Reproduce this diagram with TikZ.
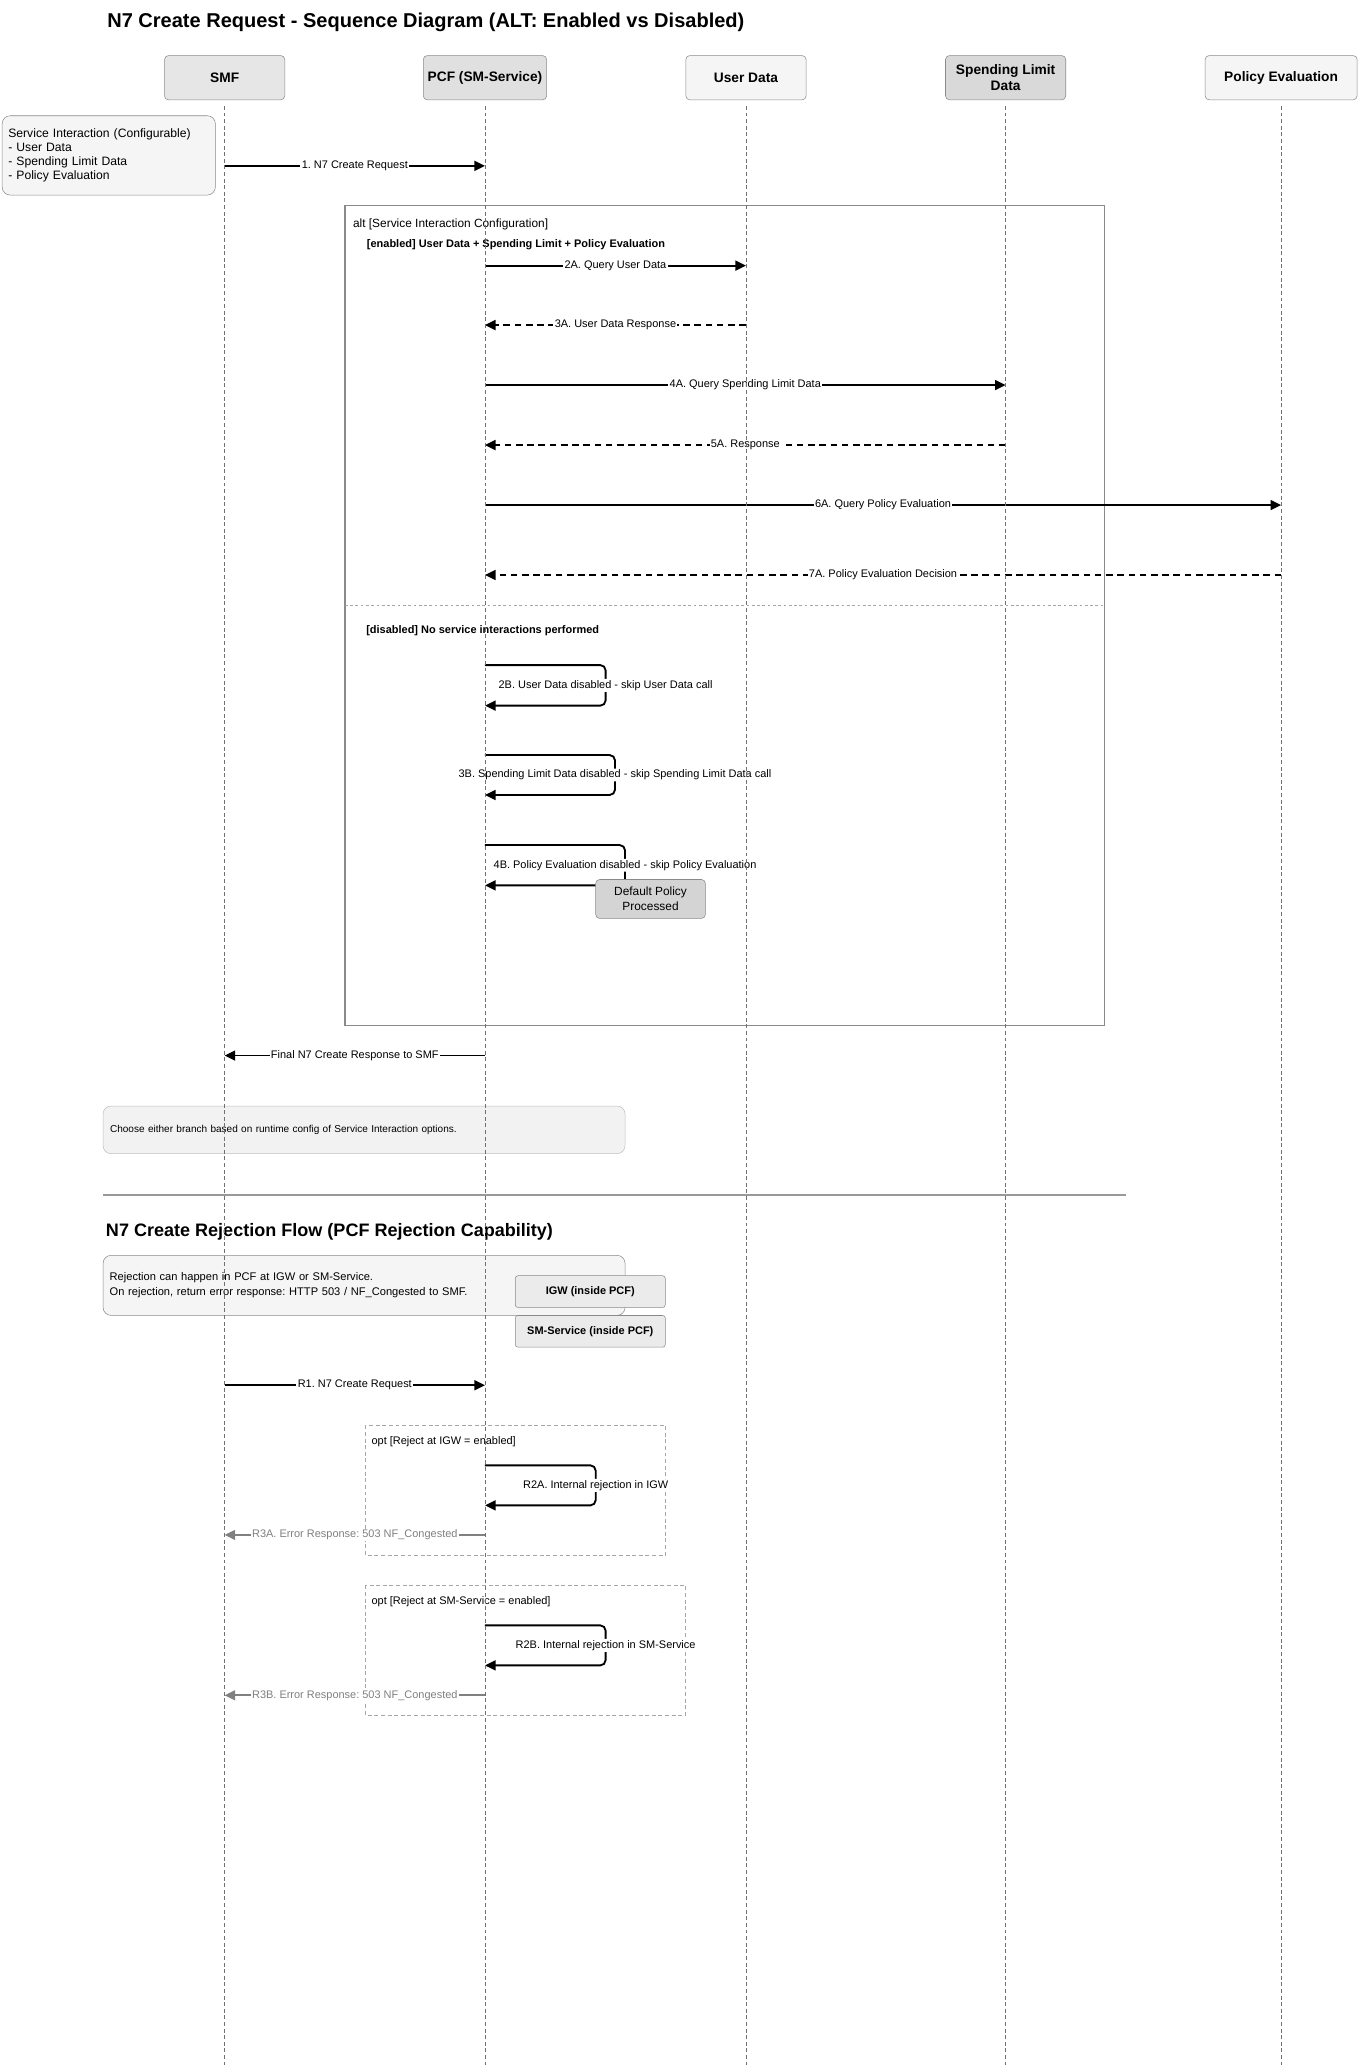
\documentclass[tikz,border=0pt]{standalone}
\usepackage{fontspec}
\setmainfont{Liberation Sans}
\usetikzlibrary{arrows.meta}
\definecolor{framegray}{HTML}{8A8A8A}
\definecolor{lifegray}{HTML}{707070}
\definecolor{errgray}{HTML}{808080}
\definecolor{notefill}{HTML}{F5F5F5}
\definecolor{smffill}{HTML}{E6E6E6}
\definecolor{pcffill}{HTML}{E0E0E0}
\definecolor{sldfill}{HTML}{D9D9D9}
\frenchspacing
\begin{document}
\begin{tikzpicture}[x=1pt,y=-1pt,
  actor/.style={draw=framegray,rounded corners=3pt,minimum width=91pt,
    minimum height=33.5pt,align=center,
    font=\bfseries\fontsize{10.4}{12}\selectfont},
  lifeline/.style={draw=lifegray,line width=0.5pt,dash pattern=on 3pt off 2pt},
  msg/.style={line width=1.4pt,-{Triangle[length=8pt,width=7.5pt]}},
  reply/.style={msg,dash pattern=on 5pt off 3.5pt},
  errmsg/.style={msg,draw=errgray},
  lbl/.style={fill=white,inner sep=1pt,font=\fontsize{8.3}{10}\selectfont},
  note/.style={draw=framegray,fill=notefill,rounded corners=6pt,align=left,
    font=\fontsize{8.4}{11}\selectfont},
  pcfbox/.style={draw=framegray,fill=black!8,rounded corners=2pt,
    minimum width=113.5pt,minimum height=24pt,
    font=\bfseries\fontsize{8.3}{10}\selectfont},
  guard/.style={anchor=west,inner sep=0pt,font=\fontsize{9}{11}\selectfont},
  branch/.style={anchor=west,inner sep=0pt,
    font=\bfseries\fontsize{8.3}{10}\selectfont},
  heading/.style={anchor=base west,inner sep=0pt,
    font=\bfseries\fontsize{15.15}{18}\selectfont}
]
  \useasboundingbox (0,0) rectangle (1030,1568);

  \node[heading] (title) at (81,20.7)
    {N7 Create Request - Sequence Diagram (ALT: Enabled vs Disabled)};

  \node[actor,fill=smffill] (smf) at (170,58.8) {SMF};
  \node[actor,fill=pcffill] (pcf) at (367,58.8) {PCF (SM-Service)};
  \node[actor,fill=notefill] (ud) at (564.5,58.8) {User Data};
  \node[actor,fill=sldfill] (sld) at (761,58.8) {Spending Limit\\Data};
  \node[actor,fill=notefill,minimum width=115pt] (pe) at (969.5,58.8)
    {Policy Evaluation};

  \path
    (170,1562.7) coordinate (smf-end)
    (367,1562.7) coordinate (pcf-end)
    (564.5,1562.7) coordinate (ud-end)
    (761,1562.7) coordinate (sld-end)
    (969.5,1562.7) coordinate (pe-end)
    (170,125.5) coordinate (smf-1)
    (367,125.5) coordinate (pcf-1)
    (367,201) coordinate (pcf-2a)
    (564.5,201) coordinate (ud-2a)
    (564.5,246) coordinate (ud-3a)
    (367,246) coordinate (pcf-3a)
    (367,291.4) coordinate (pcf-4a)
    (761,291.4) coordinate (sld-4a)
    (761,336.8) coordinate (sld-5a)
    (367,336.8) coordinate (pcf-5a)
    (367,382.2) coordinate (pcf-6a)
    (969.5,382.2) coordinate (pe-6a)
    (969.5,435.1) coordinate (pe-7a)
    (367,435.1) coordinate (pcf-7a)
    (367,503.3) coordinate (pcf-2b)
    (367,534) coordinate (pcf-2b-ret)
    (367,571.4) coordinate (pcf-3b)
    (367,601.6) coordinate (pcf-3b-ret)
    (367,639.5) coordinate (pcf-4b)
    (367,670) coordinate (pcf-4b-ret)
    (367,798.8) coordinate (pcf-fin)
    (170,798.8) coordinate (smf-fin)
    (170,1048.3) coordinate (smf-r1)
    (367,1048.3) coordinate (pcf-r1)
    (367,1108.9) coordinate (pcf-r2a)
    (367,1139.2) coordinate (pcf-r2a-ret)
    (367,1161.6) coordinate (pcf-r3a)
    (170,1161.6) coordinate (smf-r3a)
    (367,1230) coordinate (pcf-r2b)
    (367,1260.3) coordinate (pcf-r2b-ret)
    (367,1282.9) coordinate (pcf-r3b)
    (170,1282.9) coordinate (smf-r3b);

  \node[note,minimum width=161.3pt,minimum height=60pt,text width=152pt,
    inner xsep=4.6pt,font=\fontsize{9.2}{10.7}\selectfont] (cfgnote)
    at (82.3,117.6)
    {Service Interaction (Configurable)\\- User Data\\- Spending Limit Data\\- Policy Evaluation};

  \draw[msg]
    (smf-1)
    --
    (pcf-1) node[lbl,midway] {1. N7 Create Request};

  \draw[framegray,line width=1pt] (261,155.6) rectangle (836,776);
  \node[guard] (altguard) at (267,170) {alt [Service Interaction Configuration]};
  \node[branch] (enabled) at (277.5,185.5)
    {[enabled] User Data + Spending Limit + Policy Evaluation};

  \draw[msg]
    (pcf-2a)
    --
    (ud-2a) node[lbl,midway] {2A. Query User Data};
  \draw[reply]
    (ud-3a)
    --
    (pcf-3a) node[lbl,midway] {3A. User Data Response};
  \draw[msg]
    (pcf-4a)
    --
    (sld-4a) node[lbl,midway] {4A. Query Spending Limit Data};
  \draw[reply]
    (sld-5a)
    --
    (pcf-5a) node[lbl,midway] {5A. Response};
  \draw[msg]
    (pcf-6a)
    --
    (pe-6a) node[lbl,midway] {6A. Query Policy Evaluation};
  \draw[reply]
    (pe-7a)
    --
    (pcf-7a) node[lbl,midway] {7A. Policy Evaluation Decision};

  \draw[black!35,line width=0.6pt,dash pattern=on 2pt off 2pt]
    (261,458) -- (836,458);
  \node[branch] (disabled) at (277,477.5)
    {[disabled] No service interactions performed};

  \draw[msg,rounded corners=4pt]
    (pcf-2b)
    -- ++(91.3,0)
    -- ++(0,30.7) node[lbl,midway] {2B. User Data disabled - skip User Data call}
    -- (pcf-2b-ret);
  \draw[msg,rounded corners=4pt]
    (pcf-3b)
    -- ++(98.4,0)
    -- ++(0,30.2) node[lbl,midway]
      {3B. Spending Limit Data disabled - skip Spending Limit Data call}
    -- (pcf-3b-ret);
  \draw[msg,rounded corners=4pt]
    (pcf-4b)
    -- ++(106,0)
    -- ++(0,30.5) node[lbl,midway]
      {4B. Policy Evaluation disabled - skip Policy Evaluation}
    -- (pcf-4b-ret);
  \node[draw=framegray,fill=black!17,rounded corners=3pt,minimum width=83pt,
    minimum height=29.5pt,align=center,font=\fontsize{9}{11.3}\selectfont]
    (dflt) at (492.3,680.3) {Default Policy\\Processed};

  \draw[msg]
    (pcf-fin)
    --
    (smf-fin) node[lbl,midway] {Final N7 Create Response to SMF};

  \node[note,draw=black!25,fill=black!5,minimum width=395pt,minimum height=36pt,
    text width=384.4pt,inner xsep=5.3pt,font=\fontsize{7.6}{9}\selectfont]
    (choice) at (275.5,855)
    {Choose either branch based on runtime config of Service Interaction options.};

  \draw[black!40,line width=0.8pt] (78,904.3) -- (852,904.3);

  \node[heading,font=\bfseries\fontsize{13.65}{16}\selectfont] (title2)
    at (80,935.5) {N7 Create Rejection Flow (PCF Rejection Capability)};

  \node[note,minimum width=395pt,minimum height=45.4pt,text width=385pt,
    inner xsep=5pt] (rejnote) at (275.5,972.7)
    {Rejection can happen in PCF at IGW or SM-Service.\\On rejection, return error response: HTTP 503 / NF\_Congested to SMF.};
  \node[pcfbox] (igw) at (446.7,977.4) {IGW (inside PCF)};
  \node[pcfbox] (smsvc) at (446.7,1007.5) {SM-Service (inside PCF)};

  \draw[msg]
    (smf-r1)
    --
    (pcf-r1) node[lbl,midway] {R1. N7 Create Request};

  \draw[black!35,line width=0.6pt,dash pattern=on 3pt off 2pt]
    (276.5,1078.7) rectangle (503.8,1176.8);
  \node[guard,font=\fontsize{8.3}{10}\selectfont] (optigw) at (281,1091)
    {opt [Reject at IGW = enabled]};
  \draw[msg,rounded corners=4pt]
    (pcf-r2a)
    -- ++(83.8,0)
    -- ++(0,30.3) node[lbl,midway] {R2A. Internal rejection in IGW}
    -- (pcf-r2a-ret);
  \draw[errmsg]
    (pcf-r3a)
    --
    (smf-r3a) node[lbl,midway,text=errgray] {R3A. Error Response: 503 NF\_Congested};

  \draw[black!35,line width=0.6pt,dash pattern=on 3pt off 2pt]
    (276.5,1199.7) rectangle (518.9,1297.9);
  \node[guard,font=\fontsize{8.3}{10}\selectfont] (optsm) at (281,1212.3)
    {opt [Reject at SM-Service = enabled]};
  \draw[msg,rounded corners=4pt]
    (pcf-r2b)
    -- ++(91.3,0)
    -- ++(0,30.3) node[lbl,midway] {R2B. Internal rejection in SM-Service}
    -- (pcf-r2b-ret);
  \draw[errmsg]
    (pcf-r3b)
    --
    (smf-r3b) node[lbl,midway,text=errgray] {R3B. Error Response: 503 NF\_Congested};

  \draw[lifeline] ([yshift=-4.4pt]smf.south) -- (smf-end);
  \draw[lifeline] ([yshift=-4.4pt]pcf.south) -- (pcf-end);
  \draw[lifeline] ([yshift=-4.4pt]ud.south) -- (ud-end);
  \draw[lifeline] ([yshift=-4.4pt]sld.south) -- (sld-end);
  \draw[lifeline] ([yshift=-4.4pt]pe.south) -- (pe-end);
\end{tikzpicture}
\end{document}
